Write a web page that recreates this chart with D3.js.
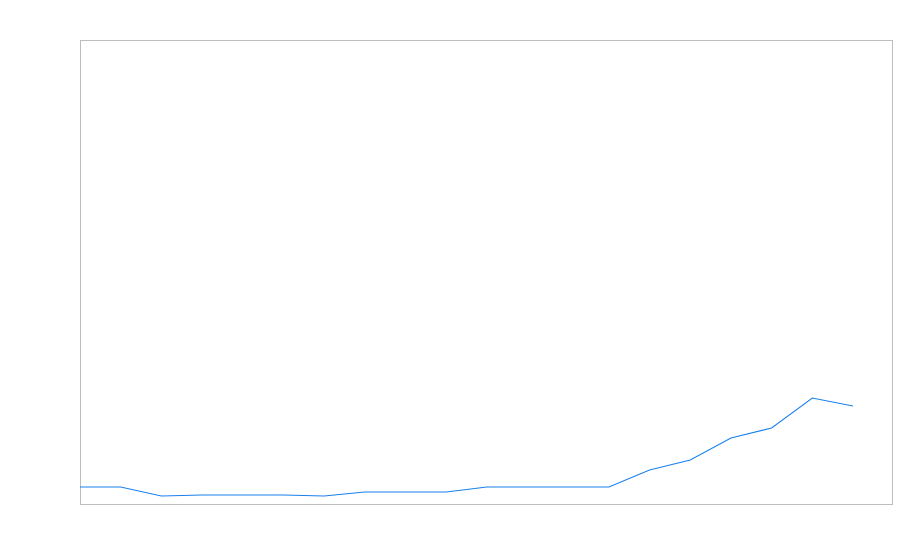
<!DOCTYPE html>
<html>
<head>
<meta charset="utf-8">
<script src="https://cdn.jsdelivr.net/npm/d3@7"></script>
<style>
  html, body { margin: 0; padding: 0; background: #fff; }
  svg { display: block; }
</style>
</head>
<body>
<div class="chart"></div>
<script>
/* Single line series inside a plain frame, no axis labels. */

// point index along the x axis (20 points)
var categories = [0, 1, 2, 3, 4, 5, 6, 7, 8, 9, 10, 11, 12, 13, 14, 15, 16, 17, 18, 19];

// series values (height above the frame bottom)
var values = [17, 17, 8, 9, 9, 9, 8, 12, 12, 12, 17, 17, 17, 17, 34, 44, 66, 76, 106, 98];

var yDomain = [0, 464];

drawChart();

function drawChart() {

  var margin = {top: 40, right: 8, bottom: 56, left: 80},
      width = 900 - margin.left - margin.right,
      height = 560 - margin.top - margin.bottom;

  var svg = d3.select(".chart")
      .append("svg")
      .attr("width", 900)
      .attr("height", 560)
      .append("g")
      .attr("transform", "translate(" + margin.left + "," + margin.top + ")");

  // last point sits ~39px short of the right edge of the frame
  var x = d3.scaleLinear()
      .domain([0, categories.length - 1])
      .range([0, width - 39]);

  var y = d3.scaleLinear()
      .domain(yDomain)
      .range([height, 0]);

  // frame
  svg.append("rect")
      .attr("x", 0.5)
      .attr("y", 0.5)
      .attr("width", width)
      .attr("height", height)
      .style("fill", "none")
      .style("stroke", "#bdbdbd")
      .style("stroke-width", 1);

  var line = d3.line()
      .x(function (d, i) { return x(categories[i]); })
      .y(function (d) { return y(d); });

  svg.append("path")
      .datum(values)
      .attr("d", line)
      .style("fill", "none")
      .style("stroke", "#1a80ee")
      .style("stroke-width", 1.1);
}
</script>
</body>
</html>
